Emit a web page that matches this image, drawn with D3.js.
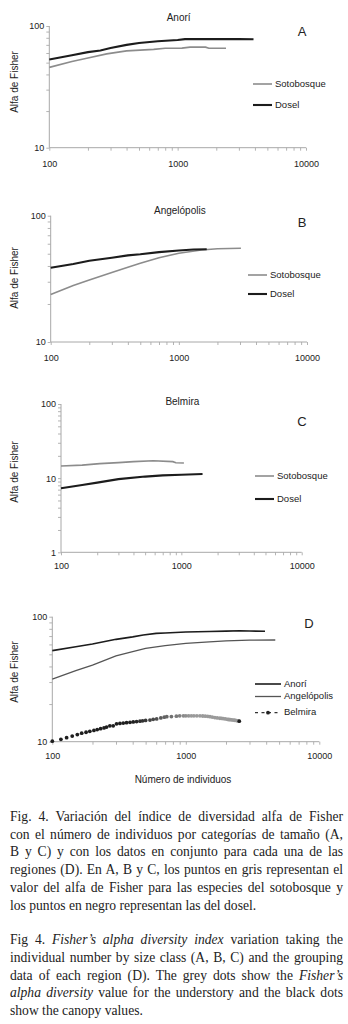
<!DOCTYPE html>
<html lang="es">
<head>
<meta charset="utf-8">
<script src="https://d3js.org/d3.v7.min.js"></script>
<style>
  body { margin: 0; background: #fff; }
  #wrap { position: relative; width: 348px; height: 1024px; }
  svg { position: absolute; left: 0; top: 0; }
  .cap { position: absolute; left: 10px; width: 333px; font-family: "Liberation Serif", serif;
         font-size: 13.6px; line-height: 17.8px; color: #222; }
  .cap div { text-align: justify; text-align-last: justify; white-space: nowrap; }
  .cap div.last { text-align-last: left; }
</style>
</head>
<body>
<div id="wrap"></div>
<script>
// ---- data ----
const xTicks = [100, 1000, 10000];

// A - Anorí
const anoriDoselX = [100, 150, 200, 250, 300, 400, 500, 700, 1000, 1140, 2000, 3000, 3900];
const anoriDoselY = [53, 57.5, 61, 63, 66, 70, 72.5, 75, 76.7, 78, 78, 78, 77.8];
const anoriSotoX = [100, 150, 200, 280, 400, 650, 800, 1080, 1250, 1650, 1750, 2380];
const anoriSotoY = [45.7, 51, 54.5, 59, 62.5, 64.3, 65.6, 65.8, 67, 67, 65.6, 65.6];

// B - Angelópolis
const angeDoselX = [100, 150, 200, 300, 400, 500, 700, 1000, 1300, 1650];
const angeDoselY = [38.7, 41.5, 44, 46.5, 48.5, 49.5, 51.5, 53, 54, 54.2];
const angeSotoX = [100, 150, 200, 300, 400, 500, 700, 1000, 1500, 2000, 3050];
const angeSotoY = [23.8, 28, 31, 35.5, 39, 42, 46.5, 50.4, 53.5, 54.7, 55.2];

// C - Belmira
const belmSotoX = [100, 150, 210, 300, 400, 585, 850, 900, 1050];
const belmSotoY = [14.6, 15, 15.7, 16.2, 16.7, 17.2, 16.7, 16.1, 16];
const belmDoselX = [100, 150, 200, 300, 500, 700, 1000, 1500];
const belmDoselY = [7.3, 8.1, 8.7, 9.7, 10.5, 10.9, 11.1, 11.4];

// D - all regions
const dAnoriX = [100, 150, 180, 200, 300, 400, 480, 600, 700, 1000, 1500, 2000, 2550, 3000, 3920];
const dAnoriY = [53.5, 57.5, 59.4, 60.5, 65.9, 69, 71.4, 73.6, 74, 75.4, 76.2, 76.6, 77.3, 76.8, 76.4];
const dAngeX = [100, 150, 200, 300, 400, 500, 700, 1000, 1500, 2000, 3000, 4680];
const dAngeY = [31.7, 37, 41, 48.5, 52.5, 55.8, 58.8, 61.2, 63, 64, 65, 65.1];
const dBelmX = [100, 116, 128, 141, 154, 166, 179, 191, 205, 217, 230, 244, 255, 270, 286, 303,
  321, 340, 360, 382, 404, 428, 454, 475, 500, 539, 570, 605, 650, 690, 720, 780, 850, 900, 960,
  1000, 1050, 1100, 1150, 1210, 1277, 1340, 1400, 1460, 1517, 1580, 1650, 1720, 1800, 1860, 1910,
  1980, 2050, 2100, 2150, 2210, 2270, 2330, 2400, 2460, 2514];
const dBelmY = [10.1, 10.45, 10.76, 11.1, 11.4, 11.7, 11.9, 12.1, 12.3, 12.5, 12.7, 12.9, 13.1,
  13.4, 13.4, 13.9, 14.0, 14.1, 14.2, 14.3, 14.4, 14.5, 14.6, 14.7, 14.8, 14.9, 15.1, 15.2, 15.5,
  15.7, 15.85, 15.9, 16.0, 16.1, 16.1, 16.1, 16.1, 16.1, 16.1, 16.1, 16.1, 16.05, 16.0, 15.95,
  15.85, 15.75, 15.6, 15.5, 15.4, 15.35, 15.3, 15.2, 15.1, 15.05, 15.0, 14.95, 14.9, 14.85, 14.75,
  14.7, 14.6];

const panels = [
  { title: "Anorí", letter: "A", left: 49.3, right: 306, top: 26, bottom: 147.7, yDom: [10, 100],
    titleY: 20.5, letterY: 36, labelY: 82, tickY: 165,
    series: [
      { x: anoriSotoX, y: anoriSotoY, name: "Sotobosque", color: "#8c8c8c", w: 1.6 },
      { x: anoriDoselX, y: anoriDoselY, name: "Dosel", color: "#1c1c1c", w: 2.1 }],
    legX: 253, legY: [84, 105] },
  { title: "Angelópolis", letter: "B", left: 50.7, right: 307, top: 215.7, bottom: 342, yDom: [10, 100],
    titleY: 213.5, letterY: 227, labelY: 278, tickY: 358.5,
    series: [
      { x: angeSotoX, y: angeSotoY, name: "Sotobosque", color: "#8c8c8c", w: 1.6 },
      { x: angeDoselX, y: angeDoselY, name: "Dosel", color: "#1c1c1c", w: 2.1 }],
    legX: 248, legY: [275, 294] },
  { title: "Belmira", letter: "C", left: 61, right: 301.7, top: 404, bottom: 552.3, yDom: [1, 100],
    titleY: 405, letterY: 425.5, labelY: 472, tickY: 566.5,
    series: [
      { x: belmSotoX, y: belmSotoY, name: "Sotobosque", color: "#8c8c8c", w: 1.6 },
      { x: belmDoselX, y: belmDoselY, name: "Dosel", color: "#1c1c1c", w: 2.1 }],
    legX: 255, legY: [476, 499] },
  { title: null, letter: "D", left: 52.3, right: 319.3, top: 616.7, bottom: 741.7, yDom: [10, 100],
    titleY: 0, letterY: 628, labelY: 672, tickY: 757,
    series: [
      { x: dAnoriX, y: dAnoriY, name: "Anorí", color: "#1c1c1c", w: 1.6 },
      { x: dAngeX, y: dAngeY, name: "Angelópolis", color: "#555", w: 1.3 },
      { x: dBelmX, y: dBelmY, name: "Belmira", color: "#222", dots: true }],
    legX: 255, legY: [684, 696.5, 712.7] }
];

const captionEs = [
  "Fig. 4. Variación del índice de diversidad alfa de Fisher",
  "con el número de individuos por categorías de tamaño (A,",
  "B y C) y con los datos en conjunto para cada una de las",
  "regiones (D). En A, B y C, los puntos en gris representan el",
  "valor del alfa de Fisher para las especies del sotobosque y",
  "los puntos en negro representan las del dosel."
];
const captionEn = [
  "Fig 4. <i>Fisher’s alpha diversity index</i> variation taking the",
  "individual number by size class (A, B, C) and the grouping",
  "data of each region (D). The grey dots show the <i>Fisher’s</i>",
  "<i>alpha diversity</i> value for the understory and the black dots",
  "show the canopy values."
];

// ---- drawing ----
const wrap = d3.select("#wrap");
const svg = wrap.append("svg").attr("width", 348).attr("height", 800)
  .style("font-family", "'Liberation Sans', Arial, sans-serif");

// log ticks 1..9 per decade plus the top value, no duplicates
function logTicks(lo, hi) {
  const t = [];
  for (let d = lo; d < hi; d *= 10) for (let k = 1; k <= 9; k++) t.push(d * k);
  t.push(hi);
  return t;
}
const isDecade = d => Math.abs(Math.log10(d) - Math.round(Math.log10(d))) < 1e-9;

function drawPanel(p) {
  const x = d3.scaleLog().domain([100, 10000]).range([p.left, p.right]);
  const y = d3.scaleLog().domain(p.yDom).range([p.bottom, p.top]);
  const g = svg.append("g");

  const yAxis = d3.axisLeft(y).tickValues(logTicks(p.yDom[0], p.yDom[1]))
    .tickSize(3).tickPadding(2).tickFormat(d => (isDecade(d) ? d : ""));
  const xAxis = d3.axisBottom(x).tickValues(logTicks(100, 10000))
    .tickSize(3).tickFormat(d => (xTicks.includes(d) ? d : ""));

  const ya = g.append("g").attr("transform", `translate(${p.left},0)`).call(yAxis);
  const xa = g.append("g").attr("transform", `translate(0,${p.bottom})`).call(xAxis);
  [ya, xa].forEach(a => {
    a.select(".domain").remove();
    a.selectAll(".tick line").attr("stroke", "#b4b4b4");
    a.selectAll("text").attr("fill", "#222").style("font-size", "9px");
  });
  g.append("line").attr("x1", p.left).attr("x2", p.left).attr("y1", p.top).attr("y2", p.bottom)
    .attr("stroke", "#a8a8a8");
  g.append("line").attr("x1", p.left).attr("x2", p.right).attr("y1", p.bottom).attr("y2", p.bottom)
    .attr("stroke", "#a8a8a8");
  xa.selectAll("text").attr("y", null).attr("dy", null)
    .attr("transform", `translate(0,${p.tickY - p.bottom})`).attr("dominant-baseline", "middle");

  g.append("text").attr("transform", `translate(15,${p.labelY}) rotate(-90)`)
    .attr("text-anchor", "middle").attr("dominant-baseline", "middle")
    .style("font-size", "10px").attr("fill", "#222").text("Alfa de Fisher");

  if (p.title) g.append("text").attr("x", (p.left + p.right) / 2 + 1).attr("y", p.titleY)
    .attr("text-anchor", "middle").style("font-size", "10px").attr("fill", "#222").text(p.title);
  g.append("text").attr("x", p.letter === "D" ? 309 : 302).attr("y", p.letterY)
    .attr("text-anchor", "middle").style("font-size", "13px").attr("fill", "#222").text(p.letter);

  const line = d3.line().x(d => x(d[0])).y(d => y(d[1]));
  p.series.forEach((s, i) => {
    const pts = s.x.map((v, j) => [v, s.y[j]]);
    const ly = p.legY[i];
    if (s.dots) {
      const col = d3.scaleLog().domain([400, 1100]).range(["#1e1e1e", "#9a9a9a"]).clamp(true);
      g.append("g").selectAll("circle").data(pts).join("circle")
        .attr("cx", d => x(d[0])).attr("cy", d => y(d[1])).attr("r", 1.9)
        .attr("fill", (d, j) => (j === pts.length - 1 ? "#1e1e1e" : col(d[0])));
      g.append("line").attr("x1", p.legX).attr("x2", p.legX + 26).attr("y1", ly).attr("y2", ly)
        .attr("stroke", "#333").attr("stroke-width", 1.2).attr("stroke-dasharray", "3,3.5");
      g.append("circle").attr("cx", p.legX + 13).attr("cy", ly).attr("r", 1.9).attr("fill", "#222");
    } else {
      g.append("path").datum(pts).attr("d", line).attr("fill", "none")
        .attr("stroke", s.color).attr("stroke-width", s.w);
      g.append("line").attr("x1", p.legX).attr("x2", p.legX + (p.letter === "D" ? 26 : 19))
        .attr("y1", ly).attr("y2", ly).attr("stroke", s.color).attr("stroke-width", s.w);
    }
    g.append("text").attr("x", p.legX + (p.letter === "D" ? 29 : 22)).attr("y", ly)
      .attr("dominant-baseline", "middle").style("font-size", "9.5px").attr("fill", "#222").text(s.name);
  });

  if (p.letter === "D") g.append("text").attr("x", 183).attr("y", 780)
    .attr("text-anchor", "middle").attr("dominant-baseline", "middle")
    .style("font-size", "10px").attr("fill", "#222").text("Número de individuos");
}

panels.forEach(drawPanel);

// ---- caption ----
function caption(lines, top) {
  const c = wrap.append("div").attr("class", "cap").style("top", top + "px");
  c.selectAll("div").data(lines).join("div")
    .classed("last", (d, i) => i === lines.length - 1).html(d => d);
}
caption(captionEs, 807.8);
caption(captionEn, 931.1);
</script>
</body>
</html>
